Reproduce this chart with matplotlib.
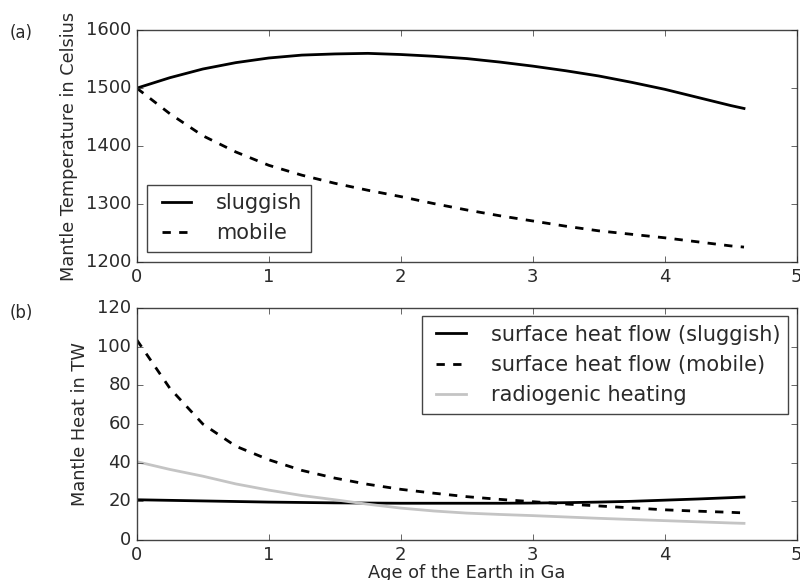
import matplotlib
matplotlib.use("Agg")
import matplotlib.pyplot as plt

# age of the Earth (Ga)
age = [0.0, 0.25, 0.5, 0.75, 1.0, 1.25, 1.5, 1.75, 2.0, 2.25, 2.5,
       2.75, 3.0, 3.25, 3.5, 3.75, 4.0, 4.25, 4.5, 4.6]

# (a) mantle temperature in Celsius
temp_sluggish = [1500, 1518, 1533, 1544, 1552, 1557, 1559, 1560, 1558, 1555, 1551,
                 1545, 1538, 1530, 1521, 1510, 1498, 1484, 1470, 1465]
temp_mobile = [1500, 1456, 1418, 1390, 1367, 1350, 1336, 1324, 1313, 1301, 1290,
               1280, 1271, 1262, 1254, 1248, 1242, 1235, 1228, 1226]

# (b) mantle heat in TW
heat_sluggish = [20.8, 20.5, 20.2, 19.9, 19.6, 19.4, 19.2, 19.1, 19.0, 19.0, 19.0,
                 19.0, 19.1, 19.3, 19.6, 20.0, 20.6, 21.2, 21.9, 22.2]
heat_mobile = [103.5, 78.5, 60.0, 48.5, 41.5, 36.0, 32.0, 28.8, 26.2, 24.2, 22.4,
               21.0, 19.8, 18.6, 17.6, 16.6, 15.6, 14.9, 14.3, 14.0]
radiogenic = [40.5, 36.5, 33.0, 29.0, 25.8, 23.0, 20.8, 18.5, 16.5, 15.0, 13.9,
              13.2, 12.6, 11.9, 11.2, 10.6, 10.0, 9.4, 8.8, 8.6]

plt.style.use("classic")
plt.rcParams["font.family"] = "DejaVu Sans"
plt.rcParams["text.color"] = "#2a2a2a"
plt.rcParams["axes.labelcolor"] = "#2a2a2a"
plt.rcParams["xtick.color"] = "#2a2a2a"
plt.rcParams["ytick.color"] = "#2a2a2a"
plt.rcParams["axes.edgecolor"] = "#444444"

fig = plt.figure(figsize=(8, 5.8), dpi=100, facecolor="white")
ax1 = fig.add_axes([0.171, 0.548, 0.825, 0.400])
ax2 = fig.add_axes([0.171, 0.069, 0.825, 0.400])

ax1.plot(age, temp_sluggish, "-", color="black", lw=2, label="sluggish")
ax1.plot(age, temp_mobile, "--", color="black", lw=2, label="mobile")
ax1.set_xlim(0, 5)
ax1.set_ylim(1200, 1600)
ax1.set_yticks([1200, 1300, 1400, 1500, 1600])
ax1.set_ylabel("Mantle Temperature in Celsius", fontsize=12.8, labelpad=6)
ax1.legend(loc="lower left", fontsize=15, borderaxespad=0.5,
           handletextpad=0.9)

ax2.plot(age, heat_sluggish, "-", color="black", lw=2,
         label="surface heat flow (sluggish)")
ax2.plot(age, heat_mobile, "--", color="black", lw=2,
         label="surface heat flow (mobile)")
ax2.plot(age, radiogenic, "-", color="#c4c4c4", lw=2,
         label="radiogenic heating")
ax2.set_xlim(0, 5)
ax2.set_ylim(0, 120)
ax2.set_ylabel("Mantle Heat in TW", fontsize=12.8, labelpad=6)
ax2.set_xlabel("Age of the Earth in Ga", fontsize=12.8, labelpad=0)
ax2.legend(loc="upper right", fontsize=15, borderaxespad=0.4,
           handletextpad=0.9)

for ax in (ax1, ax2):
    ax.tick_params(labelsize=13)

fig.text(0.012, 0.943, "(a)", fontsize=12, va="center")
fig.text(0.012, 0.460, "(b)", fontsize=12, va="center")

fig.savefig("out.png", dpi=100, facecolor="white")
